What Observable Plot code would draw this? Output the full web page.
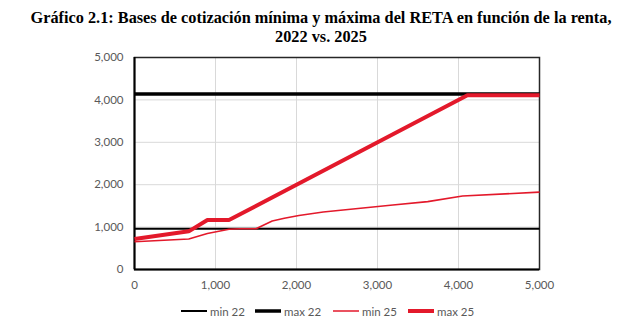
<!DOCTYPE html>
<html>
<head>
<meta charset="utf-8">
<script src="https://cdn.jsdelivr.net/npm/d3@7"></script>
<script src="https://cdn.jsdelivr.net/npm/@observablehq/plot@0.6"></script>
<style>
  body { margin: 0; background: #fff; width: 628px; height: 327px; overflow: hidden; position: relative; }
  #title { font-family: "Liberation Serif", "Times New Roman", serif; font-weight: bold; font-size: 16.3px; text-align: center; line-height: 19px; padding-top: 8px; height: 40px; color: #000; margin-left: 14px; }
  #chart svg { display: block; }
  #legend { position: absolute; left: 0; top: 302px; width: 628px; height: 20px; font-family: Lato, "Open Sans", sans-serif; font-size: 11.5px; color: #595959; }
  .item { position: absolute; top: 0; display: flex; align-items: center; height: 18px; }
  .item svg { margin-right: 3px; }
</style>
</head>
<body>
<div id="title">Gráfico 2.1: Bases de cotización mínima y máxima del RETA en función de la renta,<br>2022 vs. 2025</div>
<div id="chart"></div>
<div id="legend"></div>
<script>
// Data (renta on x, base de cotización on y)
const seriesNames = ["min 22", "max 22", "min 25", "max 25"];
const x22 = [0, 5000];
const min22 = [960.6, 960.6];
const max22 = [4139.4, 4139.4];
const xMin25 = [0, 670, 900, 1166.7, 1300, 1500, 1700, 1850, 2030, 2330, 2760, 3190, 3620, 4050, 5000];
const min25 = [653.59, 718.95, 849.67, 950.98, 960.78, 960.78, 1143.79, 1209.15, 1274.51, 1356.21, 1437.91, 1519.61, 1601.31, 1732.03, 1825];
const xMax25 = [0, 670, 900, 1166.7, 4110, 5000];
const max25 = [718.94, 900, 1166.7, 1166.7, 4110, 4110];
const tickValues = [0, 1000, 2000, 3000, 4000, 5000];

const toRows = (xs, ys) => xs.map((x, i) => ({x, y: ys[i]}));
const styles = {
  "min 22": {stroke: "#000000", w: 1.8},
  "max 22": {stroke: "#000000", w: 3.6},
  "min 25": {stroke: "#e3192b", w: 1.6},
  "max 25": {stroke: "#e3192b", w: 4}
};
const legendLeft = {"min 22": 181, "max 22": 255, "min 25": 333, "max 25": 408};
const data = {
  "min 22": toRows(x22, min22),
  "max 22": toRows(x22, max22),
  "min 25": toRows(xMin25, min25),
  "max 25": toRows(xMax25, max25)
};
const fmt = d3.format(",");

const plot = Plot.plot({
  width: 628,
  height: 245,
  marginTop: 9,
  marginBottom: 24,
  marginLeft: 134,
  marginRight: 89,
  style: {fontFamily: "Lato, 'Open Sans', sans-serif", fontSize: "11.5px", color: "#595959", background: "#fff"},
  x: {domain: [0, 5000], ticks: tickValues, tickFormat: fmt, tickSize: 0, tickPadding: 11, label: null},
  y: {domain: [0, 5000], ticks: tickValues, tickFormat: fmt, tickSize: 0, tickPadding: 11, label: null},
  marks: [
    Plot.gridX(tickValues, {stroke: "#d9d9d9", strokeOpacity: 1, strokeWidth: 1}),
    Plot.gridY(tickValues, {stroke: "#d9d9d9", strokeOpacity: 1, strokeWidth: 1}),
    Plot.frame({stroke: "#262626", strokeWidth: 1.5}),
    Plot.ruleX([0], {stroke: "#000", strokeWidth: 2}),
    Plot.ruleY([0], {stroke: "#000", strokeWidth: 2}),
    ...seriesNames.map(n => Plot.line(data[n], {x: "x", y: "y", stroke: styles[n].stroke, strokeWidth: styles[n].w, strokeLinejoin: "miter", strokeLinecap: "butt"})),
    Plot.axisX({ticks: tickValues, tickFormat: fmt, tickSize: 0, tickPadding: 11, label: null, fill: "#595959"}),
    Plot.axisY({ticks: tickValues, tickFormat: fmt, tickSize: 0, tickPadding: 11, label: null, fill: "#595959"})
  ]
});
document.getElementById("chart").appendChild(plot);

const legend = document.getElementById("legend");
for (const n of seriesNames) {
  const item = document.createElement("div");
  item.className = "item";
  item.style.left = legendLeft[n] + "px";
  const s = styles[n];
  item.innerHTML = `<svg width="26" height="8"><line x1="0" x2="26" y1="4" y2="4" stroke="${s.stroke}" stroke-width="${s.w}" stroke-linecap="round"/></svg><span>${n}</span>`;
  legend.appendChild(item);
}
</script>
</body>
</html>
